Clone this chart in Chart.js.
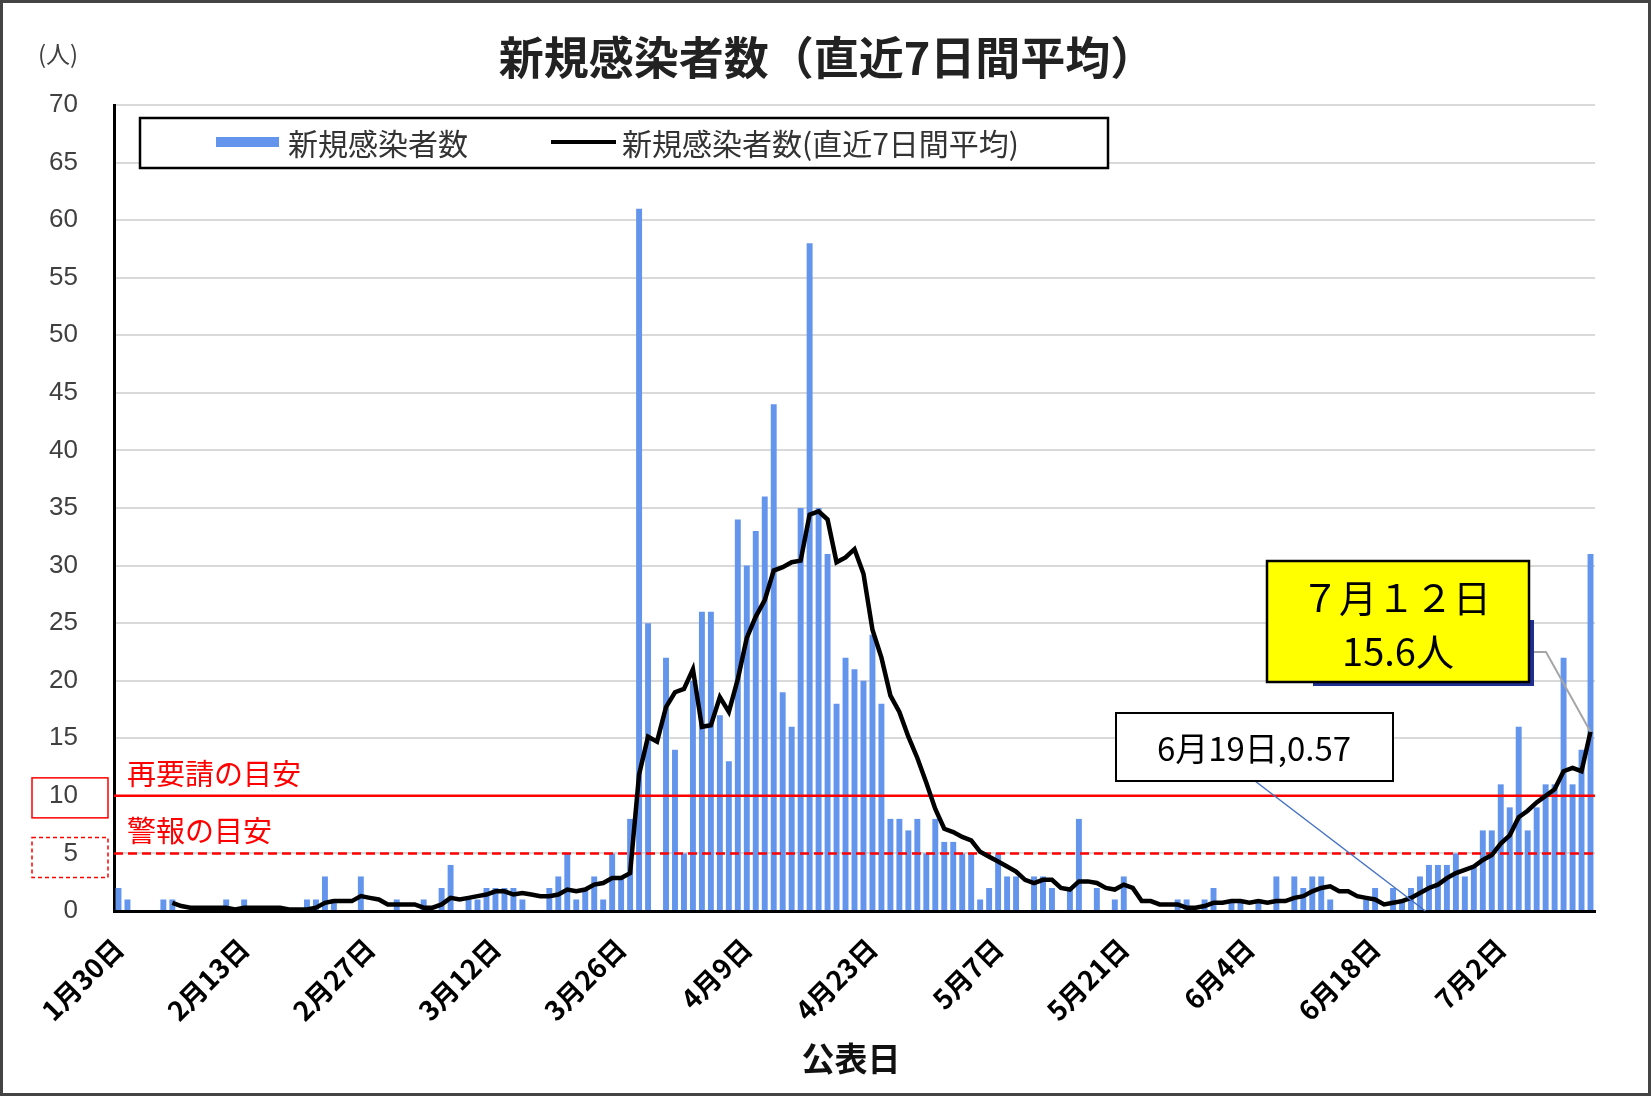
<!DOCTYPE html>
<html lang="ja">
<head>
<meta charset="utf-8">
<title>新規感染者数(直近7日間平均)</title>
<script src="https://cdn.jsdelivr.net/npm/chart.js@4.4.1/dist/chart.umd.min.js"></script>
<style>
  html, body { margin: 0; padding: 0; background: #fff; }
  #wrap { width: 1651px; height: 1096px; position: relative; }
  canvas { display: block; }
</style>
</head>
<body>
<div id="wrap"><canvas id="chart" width="1651" height="1096"></canvas></div>
<script>
// daily series, starting 1/30
const firstDay = { year: 2020, month: 1, day: 30 };
const dayCount = 165;
const labelEvery = 14;

const newCases = [
  2, 1, 0, 0, 0, 1, 1, 0, 0, 0,
  0, 0, 1, 0, 1, 0, 0, 0, 0, 0,
  0, 1, 1, 3, 1, 0, 0, 3, 0, 0,
  0, 1, 0, 0, 1, 0, 2, 4, 0, 1,
  1, 2, 2, 2, 2, 1, 0, 0, 2, 3,
  5, 1, 2, 3, 1, 5, 3, 8, 61, 25,
  0, 22, 14, 5, 20, 26, 26, 17, 13, 34,
  30, 33, 36, 44, 19, 16, 35, 58, 35, 31,
  18, 22, 21, 20, 24, 18, 8, 8, 7, 8,
  5, 8, 6, 6, 5, 5, 1, 2, 5, 3,
  3, 0, 3, 3, 2, 0, 2, 8, 0, 2,
  0, 1, 3, 0, 0, 0, 0, 0, 1, 1,
  0, 1, 2, 0, 1, 1, 0, 1, 0, 3,
  0, 3, 2, 3, 3, 1, 0, 0, 0, 1,
  2, 0, 2, 1, 2, 3, 4, 4, 4, 5,
  3, 4, 7, 7, 11, 9, 16, 7, 9, 11,
  11, 22, 11, 14, 31
];

// 7-day average line as drawn (starts on the 7th day)
const avg7 = [
  null, null, null, null, null, null,
  0.71, 0.43, 0.29, 0.29, 0.29, 0.29, 0.29,
  0.14, 0.29, 0.29, 0.29, 0.29, 0.29, 0.14, 0.14, 0.14,
  0.29, 0.71, 0.86, 0.86, 0.86, 1.29, 1.14, 1.00,
  0.57, 0.57, 0.57, 0.57, 0.29, 0.29,
  0.57, 1.14, 1.00, 1.14, 1.29, 1.43,
  1.71, 1.71, 1.43, 1.57, 1.43, 1.29, 1.29, 1.43,
  1.86, 1.71, 1.86, 2.29, 2.43, 2.86, 2.86, 3.29,
  11.86, 15.14, 14.71, 17.71, 19.00, 19.29, 21.00,
  16.00, 16.14, 18.57, 17.29, 20.14, 23.71, 25.57,
  27.00, 29.57, 29.86, 30.29, 30.43, 34.43, 34.71,
  34.00, 30.29, 30.71, 31.43, 29.29, 24.43, 22.00,
  18.71, 17.29, 15.14, 13.29, 11.14, 8.86, 7.14,
  6.86, 6.43, 6.14, 5.14, 4.71, 4.29, 3.86,
  3.43, 2.71, 2.43, 2.71, 2.71, 2.00, 1.86,
  2.57, 2.57, 2.43, 2.00, 1.86, 2.29, 2.00,
  0.86, 0.86, 0.57, 0.57, 0.57, 0.29, 0.29,
  0.43, 0.71, 0.71, 0.86, 0.86, 0.71, 0.86,
  0.71, 0.86, 0.86, 1.14, 1.29, 1.71, 2.00,
  2.14, 1.71, 1.71, 1.29, 1.14, 1.00, 0.57,
  0.71, 0.86, 1.14, 1.57, 2.00, 2.29, 2.86,
  3.29, 3.57, 3.86, 4.43, 4.86, 5.86, 6.57,
  8.14, 8.71, 9.43, 10.00, 10.57, 12.14, 12.43, 12.14, 15.57
];

const thresholdRequest = 10;  // 再要請の目安
const thresholdAlert = 5;     // 警報の目安
const lowPointIndex = 141;    // 6月19日

const dateLabels = [];
for (let i = 0; i < dayCount; i++) {
  const d = new Date(Date.UTC(firstDay.year, firstDay.month - 1, firstDay.day + i));
  dateLabels.push((d.getUTCMonth() + 1) + '月' + d.getUTCDate() + '日');
}

const FONT = '"Noto Sans CJK JP", "Noto Sans", sans-serif';
const BAR_COLOR = '#6495ed';

const decor = {
  id: 'decor',
  afterDatasetDraw(chart, args) {
    if (args.index !== 0) return;
    const { ctx, chartArea: a, scales: { y } } = chart;
    ctx.save();
    ctx.strokeStyle = '#ff0000';
    ctx.lineWidth = 2.5;
    let yy = y.getPixelForValue(thresholdRequest);
    ctx.beginPath(); ctx.moveTo(a.left, yy); ctx.lineTo(a.right, yy); ctx.stroke();
    ctx.setLineDash([9, 5]);
    yy = y.getPixelForValue(thresholdAlert);
    ctx.beginPath(); ctx.moveTo(a.left, yy); ctx.lineTo(a.right, yy); ctx.stroke();
    ctx.restore();
  },
  afterDraw(chart) {
    const { ctx, scales: { x, y } } = chart;
    ctx.save();

    // outer frame
    ctx.strokeStyle = '#444';
    ctx.lineWidth = 3;
    ctx.strokeRect(1.5, 1.5, chart.width - 3, chart.height - 3);

    // title and units
    ctx.fillStyle = '#222';
    ctx.textAlign = 'center';
    ctx.textBaseline = 'middle';
    ctx.font = 'bold 45px ' + FONT;
    ctx.fillText('新規感染者数（直近7日間平均）', 827, 58);
    ctx.font = '24px ' + FONT;
    ctx.fillStyle = '#404040';
    ctx.fillText('(人)', 58, 54);
    ctx.font = 'bold 33px ' + FONT;
    ctx.fillStyle = '#111';
    ctx.fillText('公表日', 851, 1058);

    // legend
    ctx.fillStyle = '#fff';
    ctx.fillRect(140, 118, 968, 50);
    ctx.strokeStyle = '#000';
    ctx.lineWidth = 2.5;
    ctx.strokeRect(140, 118, 968, 50);
    ctx.fillStyle = BAR_COLOR;
    ctx.fillRect(216, 137, 63, 10);
    ctx.strokeStyle = '#000';
    ctx.lineWidth = 4;
    ctx.beginPath(); ctx.moveTo(551, 142); ctx.lineTo(616, 142); ctx.stroke();
    ctx.fillStyle = '#333';
    ctx.textAlign = 'left';
    ctx.font = '30px ' + FONT;
    ctx.fillText(chart.data.datasets[0].label, 288, 144);
    ctx.fillText(chart.data.datasets[1].label, 622, 144);

    // threshold labels and boxes round the 10 / 5 ticks
    ctx.fillStyle = '#ff0000';
    ctx.font = '29px ' + FONT;
    ctx.fillText('再要請の目安', 127, y.getPixelForValue(thresholdRequest) - 22);
    ctx.fillText('警報の目安', 127, y.getPixelForValue(thresholdAlert) - 22);
    ctx.strokeStyle = '#ff0000';
    ctx.lineWidth = 1.5;
    let ty = y.getPixelForValue(thresholdRequest);
    ctx.strokeRect(32, ty - 18, 76, 40);
    ctx.setLineDash([4, 3]);
    ty = y.getPixelForValue(thresholdAlert);
    ctx.strokeRect(32, ty - 16, 76, 40);
    ctx.setLineDash([]);

    // 6月19日 callout
    const lowX = x.getPixelForValue(lowPointIndex + 4.6);
    const lowY = y.getPixelForValue(0);
    ctx.strokeStyle = '#4472c4';
    ctx.lineWidth = 1.5;
    ctx.beginPath(); ctx.moveTo(1255, 781); ctx.lineTo(lowX, lowY); ctx.stroke();
    ctx.fillStyle = '#fff';
    ctx.fillRect(1116, 713, 277, 68);
    ctx.strokeStyle = '#000';
    ctx.lineWidth = 2;
    ctx.strokeRect(1116, 713, 277, 68);
    ctx.fillStyle = '#000';
    ctx.textAlign = 'center';
    ctx.font = '33px ' + FONT;
    ctx.fillText(dateLabels[lowPointIndex] + ',' + avg7[lowPointIndex].toFixed(2), 1254, 748);

    // latest value callout
    const last = dayCount - 1;
    const px = x.getPixelForValue(last);
    const py = y.getPixelForValue(avg7[last]);
    ctx.strokeStyle = '#a6a6a6';
    ctx.lineWidth = 2;
    ctx.beginPath(); ctx.moveTo(1529, 652); ctx.lineTo(1546, 652); ctx.lineTo(px, py); ctx.stroke();
    ctx.fillStyle = '#1f2f8f';
    ctx.fillRect(1313, 620, 221, 66);
    ctx.fillStyle = '#ffff00';
    ctx.fillRect(1267, 561, 262, 121);
    ctx.strokeStyle = '#000';
    ctx.lineWidth = 2.5;
    ctx.strokeRect(1267, 561, 262, 121);
    ctx.fillStyle = '#000';
    ctx.font = '38px ' + FONT;
    ctx.fillText('７月１２日', 1396, 598);
    ctx.fillText(avg7[last].toFixed(1) + '人', 1398, 652);

    ctx.restore();
  }
};

new Chart(document.getElementById('chart'), {
  type: 'bar',
  data: {
    labels: dateLabels,
    datasets: [
      {
        label: '新規感染者数',
        data: newCases,
        backgroundColor: BAR_COLOR,
        barPercentage: 0.66,
        categoryPercentage: 1.0,
        order: 1
      },
      {
        type: 'line',
        label: '新規感染者数(直近7日間平均)',
        data: avg7,
        borderColor: '#000',
        borderWidth: 4.5,
        pointRadius: 0,
        tension: 0,
        spanGaps: false,
        order: 0
      }
    ]
  },
  options: {
    responsive: false,
    animation: false,
    devicePixelRatio: 1,
    layout: { padding: { top: 105, right: 56, left: 0, bottom: 0 } },
    plugins: {
      legend: { display: false },
      title: { display: false },
      tooltip: { enabled: false }
    },
    scales: {
      x: {
        grid: { display: false, drawTicks: false },
        border: { color: '#000', width: 3 },
        ticks: {
          autoSkip: false,
          maxRotation: 45,
          minRotation: 45,
          padding: 21,
          color: '#000',
          font: { family: FONT, size: 27, weight: 'bold' },
          callback: (v, i) => (i % labelEvery === 0 ? dateLabels[i] : '')
        },
        afterFit: (scale) => { scale.height = 185; }
      },
      y: {
        min: 0,
        max: 70,
        grid: { color: '#d9d9d9', lineWidth: 2, drawTicks: false },
        border: { color: '#000', width: 3 },
        ticks: {
          stepSize: 5,
          padding: 36,
          color: '#404040',
          font: { family: '"Liberation Sans", Arial, sans-serif', size: 26 }
        },
        afterFit: (scale) => { scale.width = 114; }
      }
    }
  },
  plugins: [decor]
});
</script>
</body>
</html>
